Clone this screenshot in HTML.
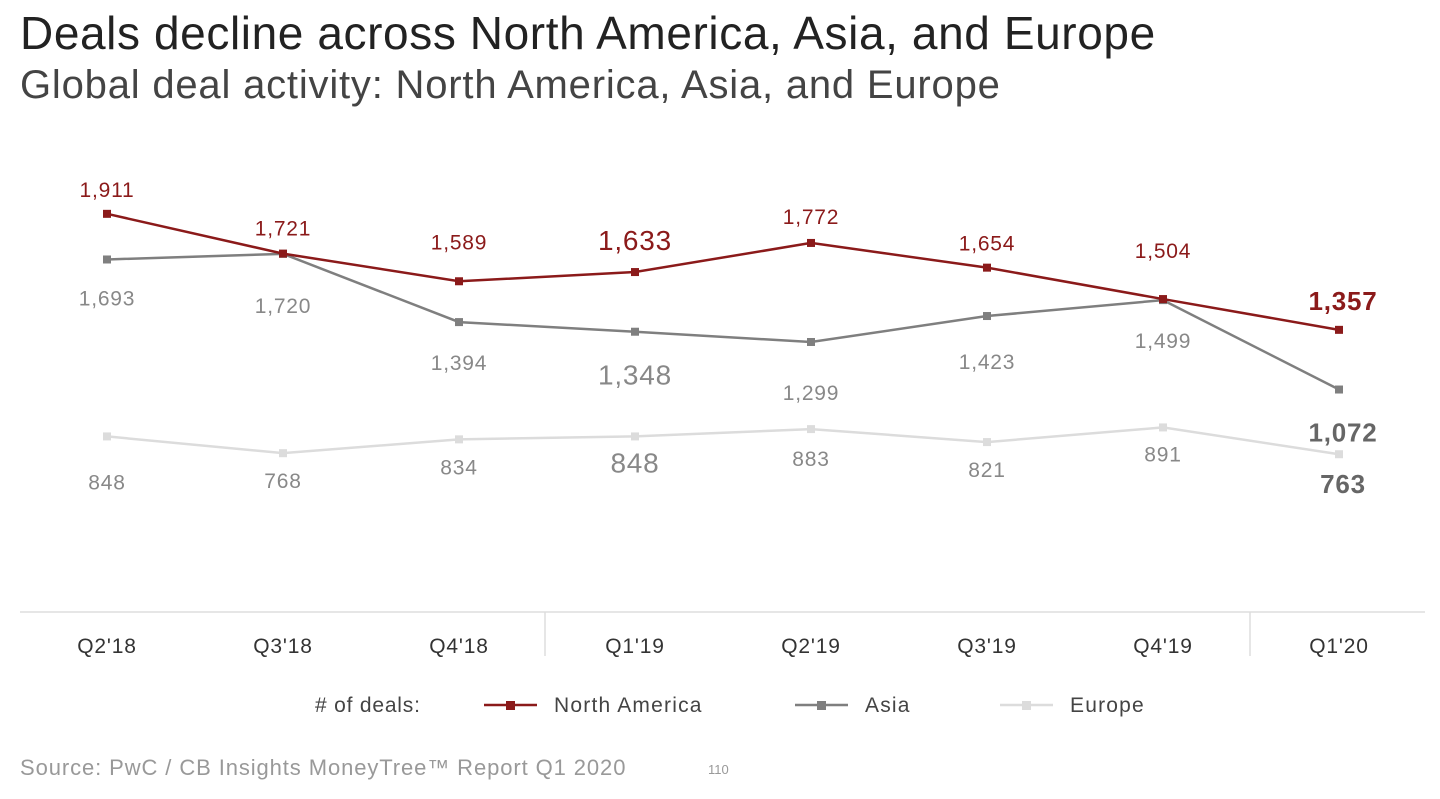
<!DOCTYPE html>
<html><head><meta charset="utf-8">
<style>
body{margin:0;width:1440px;height:799px;background:#fff;font-family:"Liberation Sans",Arial,sans-serif;overflow:hidden;position:relative}
.t{position:absolute;white-space:nowrap}
</style></head><body>
<div class="t" style="left:20px;top:6px;font-size:46px;letter-spacing:0.6px;color:#222">Deals decline across North America, Asia, and Europe</div>
<div class="t" style="left:20px;top:63px;font-size:40px;letter-spacing:0.8px;color:#444">Global deal activity: North America, Asia, and Europe</div>
<svg id="chart" width="1440" height="799" style="position:absolute;left:0;top:0" font-family="Liberation Sans, Arial, sans-serif" letter-spacing="0.8"></svg>
<div class="t" style="left:20px;top:755px;font-size:22px;letter-spacing:0.9px;color:#999">Source: PwC / CB Insights MoneyTree™ Report Q1 2020</div>
<div class="t" style="left:708px;top:762px;font-size:13px;color:#999">110</div>
<script>
const categories=["Q2'18","Q3'18","Q4'18","Q1'19","Q2'19","Q3'19","Q4'19","Q1'20"];
const northAmerica=[1911,1721,1589,1633,1772,1654,1504,1357];
const asia=[1693,1720,1394,1348,1299,1423,1499,1072];
const europe=[848,768,834,848,883,821,891,763];
const svg=document.getElementById('chart');
const NS='http://www.w3.org/2000/svg';
function x(i){return 107+i*176;}
function y(v){return 614-v*0.2094;}
function mk(tag,attrs,parent){const e=document.createElementNS(NS,tag);for(const k in attrs)e.setAttribute(k,attrs[k]);(parent||svg).appendChild(e);return e;}
let ax=mk('line',{x1:20,x2:1425,y1:612,y2:612,stroke:'#ddd','stroke-width':1.5});


[545,1250].forEach(px=>{const d=mk('line',{x1:px,x2:px,y1:612,y2:656,stroke:'#ddd','stroke-width':1.5});

});
categories.forEach((c,i)=>{const t=mk('text',{x:x(i),y:653,'text-anchor':'middle','font-size':21,fill:'#333'});t.textContent=c;

});
const series=[
 {name:'north-america',data:northAmerica,color:'#8b1a1a',txt:'#8b1a1a',off:[-24,-25,-39,-29,-26,-24,-48,-27]},
 {name:'asia',data:asia,color:'#7f7f7f',txt:'#888',off:[39,52,41,46,51,46,41,45]},
 {name:'europe',data:europe,color:'#dcdcdc',txt:'#888',off:[46,28,28,29,30,28,27,32]}
];
series.slice().reverse().forEach(s=>{
 const pts=s.data.map((v,i)=>x(i)+','+y(v)).join(' ');
 const pl=mk('polyline',{points:pts,fill:'none',stroke:s.color,'stroke-width':2.5});
 
 
 s.data.forEach((v,i)=>{
  const r=mk('rect',{x:x(i)-4,y:y(v)-4,width:8,height:8,fill:s.color});
  
  
  const last=i===s.data.length-1, big=i===3;
  const t=mk('text',{x:x(i)+(last?4:0),y:y(v)+s.off[i]+7,'text-anchor':'middle','font-size':last?26:(big?28:21),'font-weight':last?'bold':'normal',fill:last&&s.name!=='north-america'?'#666':s.txt});
  t.textContent=v.toLocaleString('en-US');
  
  
 });
});
const lg=mk('g',{});


let lt=mk('text',{x:315,y:712,'font-size':21,fill:'#444'},lg);lt.textContent='# of deals:';


[['North America',484,'#8b1a1a'],['Asia',795,'#7f7f7f'],['Europe',1000,'#dcdcdc']].forEach(([n,lx,c])=>{
 const g=mk('g',{},lg);
 
 
 mk('line',{x1:lx,x2:lx+53,y1:705,y2:705,stroke:c,'stroke-width':2.5},g);
 mk('rect',{x:lx+22,y:701,width:9,height:9,fill:c},g);
 const t=mk('text',{x:lx+70,y:712,'font-size':21,'letter-spacing':1.2,fill:'#444'},g);t.textContent=n;
});
</script>
</body></html>
